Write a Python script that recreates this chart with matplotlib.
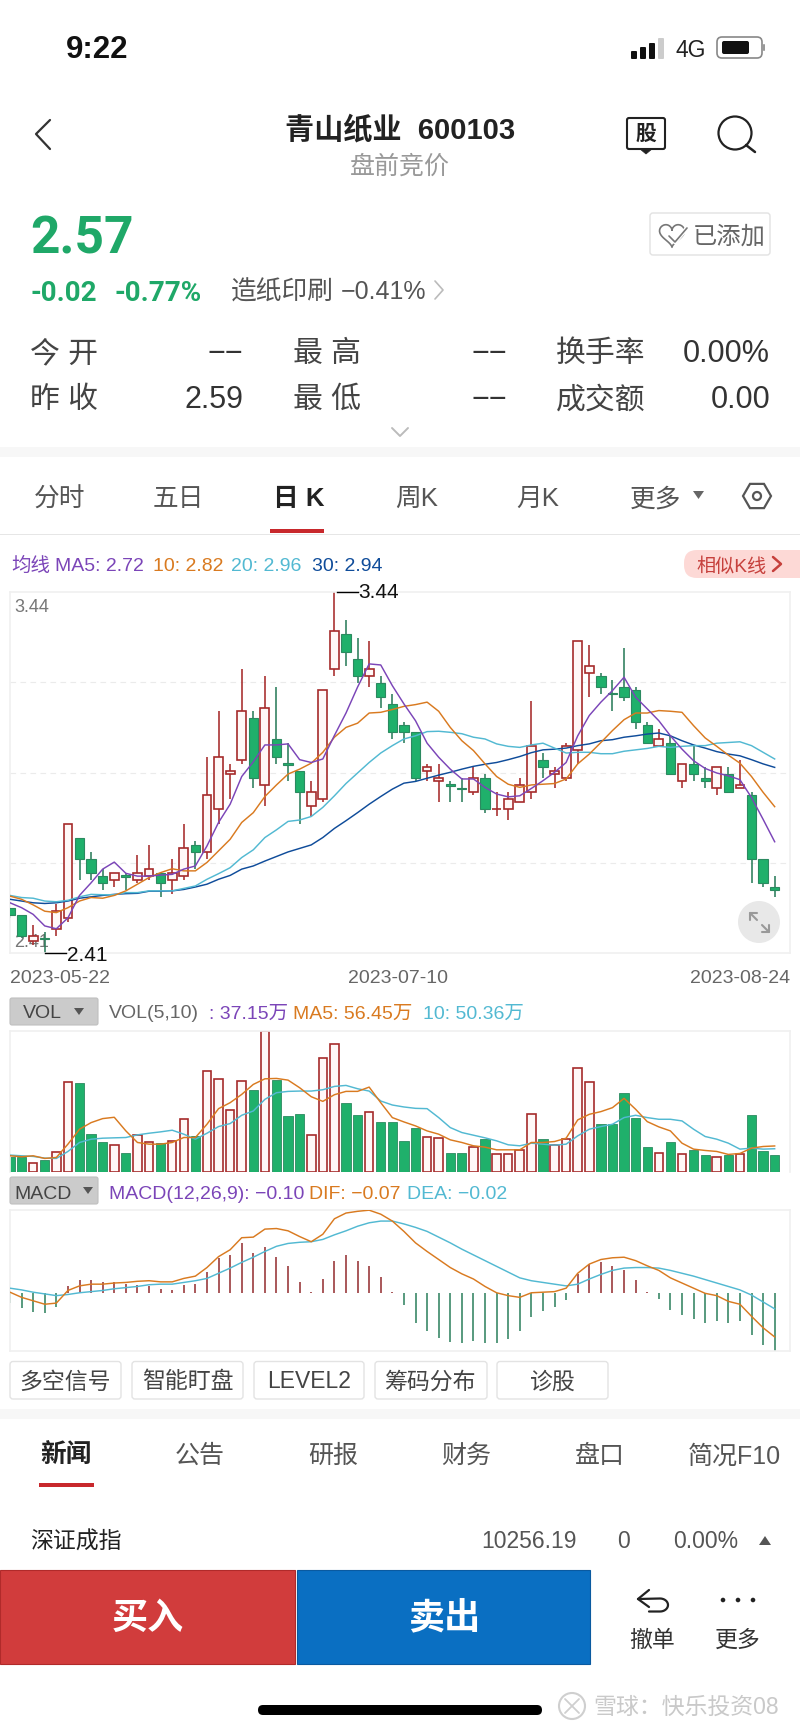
import numpy as np
import matplotlib
matplotlib.use("Agg")
import matplotlib.pyplot as plt
from matplotlib.patches import Rectangle, FancyBboxPatch, Circle, Polygon

# ---------- data ----------
opens = [2.54,2.52,2.445,2.453,2.48,2.51,2.74,2.68,2.63,2.62,2.632,2.62,2.63,2.64,2.62,2.63,2.72,2.70,2.82,2.92,2.96,3.08,2.89,
         3.02,2.952,2.93,2.83,2.85,3.22,3.32,3.25,3.20,3.18,3.12,3.06,3.04,2.93,2.90,2.892,2.882,2.87,2.91,2.82,2.82,2.84,2.87,
         2.96,2.92,2.91,2.99,3.21,3.20,3.152,3.17,3.16,3.06,3.00,3.01,2.90,2.95,2.91,2.88,2.92,2.88,2.86,2.68,2.60]
closes = [2.52,2.46,2.46,2.45,2.53,2.78,2.68,2.64,2.61,2.64,2.628,2.64,2.65,2.61,2.64,2.71,2.70,2.86,2.97,2.93,3.10,2.91,3.11,
          2.97,2.948,2.87,2.87,3.16,3.33,3.27,3.20,3.22,3.14,3.04,3.04,2.91,2.94,2.91,2.888,2.878,2.91,2.82,2.822,2.85,2.89,3.00,
          2.94,2.93,3.00,3.30,3.23,3.17,3.148,3.14,3.07,3.01,3.02,2.92,2.95,2.92,2.90,2.94,2.87,2.89,2.68,2.61,2.59]
highs = [2.54,2.52,2.49,2.47,2.55,2.78,2.74,2.70,2.65,2.64,2.64,2.69,2.72,2.64,2.68,2.78,2.73,2.97,3.10,2.95,3.22,3.10,3.20,
         3.17,3.01,2.93,2.90,3.16,3.44,3.36,3.31,3.30,3.20,3.15,3.07,3.04,2.95,2.95,2.90,2.91,2.94,2.92,2.87,2.87,2.91,3.13,
         2.98,2.94,3.01,3.30,3.29,3.21,3.19,3.28,3.17,3.07,3.05,3.03,2.95,3.00,2.94,2.94,2.94,2.96,2.87,2.68,2.63]
lows = [2.51,2.455,2.435,2.41,2.46,2.50,2.62,2.62,2.59,2.60,2.59,2.61,2.62,2.57,2.58,2.62,2.65,2.68,2.78,2.85,2.95,2.88,2.83,
        2.95,2.90,2.78,2.80,2.84,3.20,3.23,3.18,3.17,3.11,3.02,3.01,2.90,2.90,2.84,2.84,2.84,2.86,2.81,2.80,2.79,2.84,2.85,
        2.91,2.88,2.90,2.95,3.14,3.15,3.10,3.13,3.05,3.01,3.00,2.92,2.88,2.90,2.88,2.86,2.87,2.88,2.61,2.60,2.57]
ma5 = [2.554,2.540,2.521,2.488,2.480,2.511,2.575,2.611,2.650,2.670,2.638,2.630,2.630,2.633,2.635,2.650,2.659,2.716,2.783,2.835,2.914,2.956,3.004,
       3.004,3.007,2.962,2.954,2.964,3.031,3.095,3.169,3.235,3.232,3.173,3.121,3.073,3.009,2.969,2.935,2.907,2.907,2.883,2.864,2.856,2.859,2.880,
       2.902,2.926,2.954,3.030,3.088,3.126,3.159,3.197,3.140,3.107,3.073,3.030,2.992,2.959,2.937,2.924,2.916,2.905,2.854,2.792,2.728]
ma10 = [2.573,2.564,2.548,2.530,2.526,2.540,2.559,2.569,2.567,2.575,2.588,2.607,2.626,2.640,2.651,2.645,2.645,2.669,2.702,2.735,2.783,2.811,2.857,
        2.890,2.921,2.935,2.952,2.983,3.026,3.054,3.066,3.095,3.097,3.105,3.114,3.119,3.126,3.100,3.054,3.016,2.988,2.950,2.914,2.892,2.883,2.890,
        2.892,2.894,2.907,2.950,2.978,3.011,3.045,3.076,3.095,3.095,3.102,3.100,3.097,3.059,3.024,3.000,2.975,2.952,2.914,2.869,2.828]
ma20 = [2.575,2.569,2.567,2.559,2.557,2.561,2.571,2.578,2.577,2.577,2.583,2.583,2.588,2.588,2.588,2.595,2.602,2.621,2.637,2.654,2.683,2.705,2.740,
        2.762,2.786,2.790,2.800,2.826,2.859,2.894,2.924,2.954,2.981,3.002,3.021,3.030,3.042,3.043,3.040,3.036,3.026,3.021,3.007,3.000,2.997,3.004,
        3.009,2.995,2.981,2.983,2.983,2.979,2.979,2.986,2.990,2.994,3.000,2.997,3.000,3.002,3.002,3.009,3.011,3.013,3.002,2.983,2.964]
ma30 = [2.564,2.559,2.554,2.552,2.554,2.559,2.567,2.571,2.575,2.578,2.580,2.581,2.587,2.587,2.588,2.592,2.599,2.607,2.621,2.632,2.650,2.659,2.673,
        2.686,2.699,2.709,2.719,2.740,2.766,2.788,2.811,2.835,2.857,2.878,2.895,2.900,2.909,2.918,2.926,2.935,2.943,2.949,2.954,2.962,2.971,2.982,
        2.990,2.992,2.995,3.002,3.007,3.016,3.019,3.026,3.030,3.035,3.038,3.030,3.016,3.004,2.995,2.985,2.978,2.973,2.962,2.950,2.940]
volume = [31.3,31.3,18.2,25.5,42.2,196.6,195.1,83.7,66.2,58.2,40.0,80.1,64.1,62.6,67.7,115.0,78.6,222.0,203.8,135.4,198.7,178.4,307.9,
          200.2,121.6,127.4,80.8,249.0,281.0,150.7,125.2,130.3,109.2,109.2,67.7,96.8,76.4,73.5,41.5,41.5,53.9,71.3,39.3,37.9,48.0,126.7,
          71.3,58.2,72.8,227.1,195.8,104.1,104.1,173.3,117.9,54.6,41.5,65.5,39.3,47.3,37.1,32.8,37.1,38.6,124.5,45.9,37.15]
vol_ma5 = [34.9,32.8,34.9,29.1,31.3,60.4,93.2,107.7,116.5,119.4,89.5,64.1,60.4,60.4,64.1,75.0,75.0,104.1,138.3,151.4,169.6,191.5,203.8,
           204.6,200.9,184.2,164.5,154.3,168.9,176.2,176.2,185.6,151.4,118.7,109.2,100.5,89.5,82.3,69.9,64.1,56.8,53.9,48.0,48.0,48.0,64.1,
           64.1,66.2,73.5,113.6,125.9,131.8,140.5,160.9,136.9,109.9,98.3,89.5,62.6,49.5,46.6,44.4,37.9,40.0,51.7,55.3,56.45]
vol_ma10 = [36.4,34.9,33.5,29.8,29.1,44.4,64.1,71.3,73.5,74.3,75.0,80.8,84.4,87.4,91.0,82.3,71.3,84.4,99.0,105.6,123.8,133.2,158.7,
            173.3,176.2,176.9,176.9,179.8,187.1,189.3,182.0,176.9,155.1,146.3,142.0,139.0,138.3,118.7,96.8,85.9,80.1,74.3,67.7,59.0,56.8,62.6,
            60.4,58.2,60.4,78.6,93.2,99.0,104.1,118.7,123.8,118.7,115.0,115.0,111.4,93.2,77.2,71.3,62.6,49.5,51.7,49.5,50.36]
macd = [-0.016,-0.026,-0.032,-0.035,-0.024,0.012,0.024,0.024,0.019,0.019,0.016,0.015,0.013,0.008,0.006,0.015,0.016,0.037,0.061,0.067,0.088,0.070,0.080,
        0.064,0.047,0.020,0.003,0.025,0.057,0.066,0.056,0.048,0.028,0.002,-0.020,-0.051,-0.065,-0.077,-0.084,-0.087,-0.083,-0.087,-0.087,-0.080,-0.066,-0.041,
        -0.031,-0.024,-0.012,0.034,0.052,0.054,0.048,0.041,0.023,0.002,-0.009,-0.029,-0.038,-0.045,-0.051,-0.048,-0.051,-0.049,-0.072,-0.090,-0.100]
dif = [0.002,-0.007,-0.013,-0.019,-0.017,0.005,0.013,0.016,0.016,0.018,0.019,0.021,0.022,0.020,0.020,0.026,0.030,0.045,0.064,0.076,0.097,0.098,0.112,
       0.113,0.109,0.099,0.090,0.103,0.130,0.140,0.143,0.145,0.138,0.126,0.108,0.088,0.073,0.059,0.045,0.034,0.025,0.012,0.001,-0.004,-0.007,0.001,
       0.002,0.003,0.009,0.035,0.051,0.059,0.062,0.063,0.057,0.048,0.040,0.027,0.018,0.009,0.000,-0.004,-0.014,-0.019,-0.040,-0.060,-0.076]
dea = [0.009,0.006,0.002,-0.001,-0.004,-0.002,0.001,0.003,0.005,0.008,0.010,0.012,0.015,0.016,0.016,0.019,0.022,0.026,0.035,0.044,0.054,0.063,0.073,
       0.082,0.087,0.089,0.090,0.094,0.102,0.109,0.117,0.123,0.126,0.126,0.121,0.115,0.108,0.098,0.088,0.077,0.067,0.057,0.047,0.037,0.027,0.022,
       0.019,0.016,0.013,0.016,0.025,0.033,0.040,0.044,0.045,0.045,0.044,0.040,0.035,0.030,0.024,0.018,0.012,0.006,-0.003,-0.015,-0.027]
dates = ["2023-05-22", "2023-07-10", "2023-08-24"]

# ---------- style ----------
FONT = ['Liberation Sans', 'Noto Sans CJK SC', 'DejaVu Sans']
plt.rcParams['font.family'] = FONT
W, H = 800, 1731
RED = '#a62b2b'; GREEN = '#1fb06b'; GEDGE = '#2b8a60'; GWICK = '#2c7d5b'
PURPLE = '#7b45b8'; ORANGE = '#d97a20'; SKY = '#52b9d2'; NAVY = '#0f4c9a'
SPACING = 11.586

fig = plt.figure(figsize=(W/100, H/100), dpi=100, facecolor='white')

def panel(x0, y0, x1, y1):
    a = fig.add_axes([x0/W, 1-y1/H, (x1-x0)/W, (y1-y0)/H])
    a.set_xlim(0, (x1-x0)/SPACING)
    a.set_xticks([]); a.set_yticks([])
    for s in a.spines.values():
        s.set_color('#f0f0f0'); s.set_linewidth(1.2)
    return a

n = len(closes)
xs = np.arange(n)
up = np.array(closes) > np.array(opens)
o, c, hi, lo = map(np.array, (opens, closes, highs, lows))
top = np.maximum(o, c); bot = np.minimum(o, c)

# ---------- K panel ----------
ax = panel(10, 593, 790, 954.3)
ax.set_ylim(2.41, 3.44)
for k in (1, 2, 3):
    ax.axhline(2.41 + 1.03*k/4, color='#ebebeb', lw=0.8, dashes=(5, 4), zorder=1)
ax.text(0.35, 3.40, '3.44', color='#777777', fontsize=13, va='center', zorder=1)
ax.text(0.35, 2.444, '2.41', color='#777777', fontsize=13, va='center', zorder=1)
ax.vlines(xs[up], top[up], hi[up], color=RED, lw=1.15, zorder=2)
ax.vlines(xs[up], lo[up], bot[up], color=RED, lw=1.15, zorder=2)
ax.vlines(xs[~up], lo[~up], hi[~up], color=GWICK, lw=1.15, zorder=2)
ax.bar(xs[up], (top-bot)[up], bottom=bot[up], width=0.76, facecolor='#fff8f7', edgecolor=RED, linewidth=1.2, zorder=3)
ax.bar(xs[~up], (top-bot)[~up], bottom=bot[~up], width=0.8, facecolor=GREEN, edgecolor=GEDGE, linewidth=0.8, zorder=3)
for series, col in ((ma30, NAVY), (ma20, SKY), (ma10, ORANGE), (ma5, PURPLE)):
    ax.plot(xs, series, color=col, lw=1.05, zorder=4, solid_joinstyle='round')
imax = int(np.argmax(hi)); imin = int(np.argmin(lo))
ax.plot([imax+0.25, imax+2.05], [hi[imax], hi[imax]], color='black', lw=1.0, clip_on=False, zorder=5)
ax.text(imax+2.05, hi[imax], f'{hi[imax]:.2f}', fontsize=15, color='#111111', va='center', clip_on=False, zorder=5)
ax.plot([imin, imin+1.85], [lo[imin], lo[imin]], color='black', lw=1.0, clip_on=False, zorder=5)
ax.text(imin+1.9, lo[imin]-0.003, f'{lo[imin]:.2f}', fontsize=15, color='#111111', va='center', clip_on=False, zorder=5)

# ---------- VOL panel ----------
axv = panel(10, 1032.3, 790, 1172.7)
axv.set_ylim(0, 308)
axv.spines['bottom'].set_visible(False)
vol = np.array(volume)
axv.bar(xs[up], vol[up], width=0.74, facecolor='#fff8f7', edgecolor=RED, linewidth=1.2, zorder=2)
axv.bar(xs[~up], vol[~up], width=0.8, facecolor=GREEN, edgecolor=GEDGE, linewidth=0.6, zorder=2)
axv.plot(xs, vol_ma10, color=SKY, lw=1.05, zorder=3)
axv.plot(xs, vol_ma5, color=ORANGE, lw=1.05, zorder=4)

# ---------- MACD panel ----------
axm = panel(10, 1211, 790, 1351.7)
axm.set_ylim(-0.10, 0.1453)
m = np.array(macd)
axm.vlines(xs[m >= 0], 0, m[m >= 0], color='#a24a4c', lw=1.3, zorder=2)
axm.vlines(xs[m < 0], 0, m[m < 0], color='#4a9274', lw=1.3, zorder=2)
axm.plot(xs, dea, color=SKY, lw=1.05, zorder=3)
axm.plot(xs, dif, color=ORANGE, lw=1.05, zorder=4)

# ---------- UI overlay (pixel coordinates) ----------
ui = fig.add_axes([0, 0, 1, 1], zorder=10)
ui.set_xlim(0, W); ui.set_ylim(H, 0); ui.axis('off'); ui.patch.set_alpha(0)

def t(x, y, s, size, color='#333333', ha='left', weight='normal', dy=2.2, family=FONT, **kw):
    ui.text(x, y+dy, s, fontsize=size, color=color, ha=ha, va='center', fontweight=weight, family=family, **kw)
def rect(x0, y0, x1, y1, fc, ec='none', lw=0, z=1):
    ui.add_patch(Rectangle((x0, y0), x1-x0, y1-y0, facecolor=fc, edgecolor=ec, linewidth=lw, zorder=z))
def rrect(x0, y0, x1, y1, fc='white', ec='#e4e4e4', lw=1, r=3, z=1):
    ui.add_patch(FancyBboxPatch((x0+r, y0+r), x1-x0-2*r, y1-y0-2*r, boxstyle=f'round,pad={r},rounding_size={r}',
                                facecolor=fc, edgecolor=ec, linewidth=lw, zorder=z))
def line(xs_, ys_, color='#222222', lw=1.5, **kw):
    ui.plot(xs_, ys_, color=color, lw=lw, solid_capstyle='round', solid_joinstyle='round', **kw)

ROB = ['Roboto', 'Liberation Sans']

# status bar
t(66, 48, '9:22', 22.5, '#111111', weight='bold')
for bx, bh, col in ((634, 8, '#111'), (643, 12, '#111'), (652, 16, '#111'), (661, 21, '#cccccc')):
    rrect(bx-3, 60-bh, bx+3, 60, fc=col, ec='none', r=1)
t(675, 48, '4G', 16.5, '#222222')
rrect(717, 38, 762, 59, fc='white', ec='#888888', lw=1.2, r=5)
rrect(722, 42, 749, 55, fc='#111111', ec='none', r=2)
rrect(763, 45, 765, 52, fc='#999999', ec='none', r=1)

# header
line([50, 36, 50], [121, 135, 150], '#333333', 1.6)
t(400, 128, '青山纸业  600103', 21, '#222222', ha='center', weight='bold')
t(400, 164, '盘前竞价', 18, '#999999', ha='center')
rrect(627, 119, 665, 150, fc='white', ec='#222222', lw=1.5, r=2)
ui.add_patch(Polygon([[640, 150], [652, 150], [646, 155]], closed=True, fc='#222222', ec='#222222', lw=0.5))
t(646, 134, '股', 15, '#222222', ha='center', weight='bold', dy=0)
ui.add_patch(Circle((735, 134), 16.5, fc='none', ec='#222222', lw=1.6))
line([746, 755], [146, 153], '#222222', 1.8)

# quote
t(30, 236, '2.57', 37, '#1fa868', weight='bold', dy=3.5, family=ROB)
rrect(650, 214, 770, 256, fc='white', ec='#e2e2e2', lw=1, r=3)
t(693, 236, '已添加', 17.5, '#666666', dy=1)
ang = np.linspace(0, 2*np.pi, 60)
heart_x = 672 + 0.78*16*np.sin(ang)**3
heart_y = 235 - 0.78*(13*np.cos(ang)-5*np.cos(2*ang)-2*np.cos(3*ang)-np.cos(4*ang))
ui.plot(heart_x, heart_y, color='#777777', lw=1.2)
line([669, 675, 687], [237, 243, 229], 'white', 3.2)
line([669, 675, 687], [237, 243, 229], '#777777', 1.2)
t(31, 291, '-0.02', 20, '#1fa868', weight='bold', family=ROB)
t(115, 291, '-0.77%', 20, '#1fa868', weight='bold', family=ROB)
t(231, 290, '造纸印刷', 18.5, '#555555')
t(341, 290, '−0.41%', 18, '#555555')
line([435, 443, 435], [282, 291, 300], '#bbbbbb', 1.2)

# stats
for lbl, x, y in (('今 开', 30, 352), ('昨 收', 30, 398), ('最 高', 293, 352), ('最 低', 293, 398), ('换手率', 556, 352), ('成交额', 556, 398)):
    t(x, y, lbl, 21.5, '#444444')
for val, x, y in (('−−', 243, 352), ('2.59', 243, 398), ('−−', 507, 352), ('−−', 507, 398), ('0.00%', 770, 352), ('0.00', 770, 398)):
    t(x, y, val, 22, '#333333', ha='right')
line([392, 400, 408], [429, 437, 429], '#bbbbbb', 1.4)
rect(0, 448, 800, 458, '#f7f7f7')

# period tabs
for s, x in (('分时', 60), ('五日', 178), ('周K', 417), ('月K', 538), ('更多', 656)):
    t(x, 497, s, 18.5, '#555555', ha='center')
t(299, 497, '日 K', 18.5, '#222222', ha='center', weight='bold')
ui.add_patch(Polygon([[693, 492], [704, 492], [698.5, 500]], closed=True, fc='#666666', ec='none'))
hx = 757 + 14*np.cos(np.arange(6)*np.pi/3); hy = 497 + 14*np.sin(np.arange(6)*np.pi/3)
ui.add_patch(Polygon(np.c_[hx, hy], closed=True, fc='none', ec='#555555', lw=1.6))
ui.add_patch(Circle((757, 497), 4, fc='none', ec='#555555', lw=1.6))
rect(0, 534.5, 800, 535.5, '#e6e6e6')
rect(270, 530, 324, 534, '#c8282c')

# MA legend
for s, x, col in (('均线', 11, PURPLE), ('MA5: 2.72', 55, PURPLE), ('10: 2.82', 153, ORANGE), ('20: 2.96', 231, SKY), ('30: 2.94', 312, NAVY)):
    t(x, 564, s, 14, col)
rrect(684, 551, 830, 579, fc='#fdd9d6', ec='none', r=13)
t(696, 565, '相似K线', 13.8, '#c6403c')
line([773, 781, 773], [558, 565, 572], '#c6403c', 1.8)

# date labels
t(10, 976, dates[0], 14, '#666666')
t(398, 976, dates[1], 14, '#666666', ha='center')
t(790, 976, dates[2], 14, '#666666', ha='right')

# expand button
ui.add_patch(Circle((759, 923), 21, fc='#e8e8e8', ec='none', zorder=6))
for sx, sy, ex, ey in ((750, 914, 757, 921), (769, 933, 762, 926)):
    line([sx, ex], [sy, ey], '#999999', 1.5, zorder=7)
    d = 1 if sx < ex else -1
    line([sx+7*d, sx, sx], [sy, sy, sy+7*d], '#999999', 1.5, zorder=7)

# VOL header
rrect(10, 999, 98, 1026, fc='#cbcbcb', ec='#bfbfbf', lw=0.8, r=2)
t(23, 1013, 'VOL', 14, '#444444', dy=1)
ui.add_patch(Polygon([[74, 1009], [84, 1009], [79, 1016]], closed=True, fc='#555555', ec='none'))
t(109, 1013, 'VOL(5,10)', 14, '#666666', dy=1)
t(209, 1013, ': 37.15万', 14, PURPLE, dy=1)
t(293, 1013, 'MA5: 56.45万', 14, ORANGE, dy=1)
t(423, 1013, '10: 50.36万', 14, SKY, dy=1)

# MACD header
rrect(10, 1178, 98, 1205, fc='#cbcbcb', ec='#bfbfbf', lw=0.8, r=2)
t(14, 1192, 'MACD', 14, '#444444')
ui.add_patch(Polygon([[83, 1188], [93, 1188], [88, 1195]], closed=True, fc='#555555', ec='none'))
t(109, 1192, 'MACD(12,26,9): −0.10', 14, PURPLE)
t(309, 1192, 'DIF: −0.07', 14, ORANGE)
t(407, 1192, 'DEA: −0.02', 14, SKY)

# feature buttons
for s, x0, x1 in (('多空信号', 10, 121), ('智能盯盘', 132, 243), ('LEVEL2', 254, 364), ('筹码分布', 375, 487), ('诊股', 497, 608)):
    rrect(x0, 1362.5, x1, 1400, fc='white', ec='#e3e3e3', lw=1, r=3)
    t((x0+x1)/2, 1382, s, 16.5, '#444444', ha='center', dy=0)
rect(0, 1410, 800, 1420, '#f7f7f7')

# news tabs
t(66, 1454, '新闻', 18.5, '#222222', ha='center', weight='bold')
for s, x in (('公告', 200), ('研报', 333), ('财务', 466), ('盘口', 600), ('简况F10', 734)):
    t(x, 1454, s, 18, '#555555', ha='center')
rect(39, 1484, 94, 1488, '#c8282c')

# index row
t(30, 1541, '深证成指', 16.5, '#222222', dy=1)
t(577, 1541, '10256.19', 16.5, '#555555', ha='right', dy=1)
t(623, 1541, '0', 16.5, '#555555', ha='center', dy=1)
t(738, 1541, '0.00%', 16.5, '#555555', ha='right', dy=1)
ui.add_patch(Polygon([[759, 1546], [771, 1546], [765, 1537]], closed=True, fc='#555555', ec='none'))

# trade buttons
rect(0, 1571, 295, 1665, '#d13c3c', ec='#b02a2a', lw=0.8)
rect(297, 1571, 590, 1665, '#0a6fc2', ec='#0a5aa0', lw=0.8)
t(148, 1617, '买入', 26, 'white', ha='center', weight='bold')
t(444, 1617, '卖出', 26, 'white', ha='center', weight='bold')
arc = np.linspace(-np.pi/2, np.pi/2, 20)
line(np.r_[638, 660 + 8*np.cos(arc), 649], np.r_[1600, 1606 + 6.5*np.sin(arc), 1612.5], '#222222', 1.6)
line([649, 638, 649], [1591, 1600, 1608], '#222222', 1.6)
t(652, 1639, '撤单', 16.5, '#333333', ha='center', dy=1)
for dx in (723, 738, 753):
    ui.add_patch(Circle((dx, 1601), 2.3, fc='#222222', ec='none'))
t(738, 1639, '更多', 16.5, '#333333', ha='center', dy=1)

# home bar and watermark
rrect(258, 1706, 542, 1716, fc='black', ec='none', r=5)
ui.add_patch(Circle((572, 1707), 13, fc='none', ec='#cfcfcf', lw=1.5))
line([565, 579], [1700, 1714], '#cfcfcf', 1.3)
line([579, 565], [1700, 1714], '#cfcfcf', 1.3)
t(593, 1707, '雪球：快乐投资08', 16.5, '#c9c9c9', dy=0)

fig.savefig('out.png', dpi=100, facecolor='white')
